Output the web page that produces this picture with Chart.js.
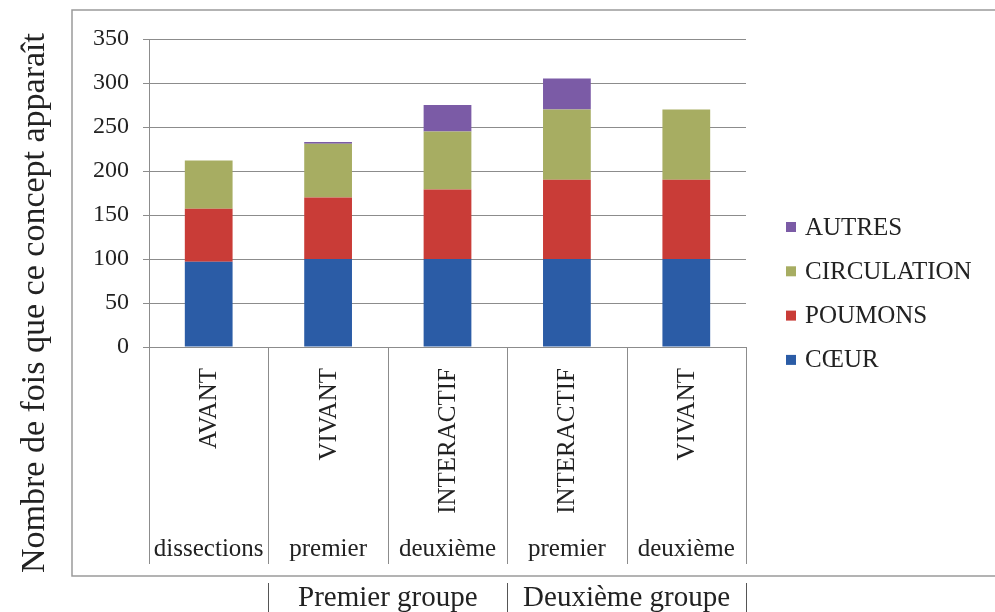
<!DOCTYPE html>
<html>
<head>
<meta charset="utf-8">
<script src="https://cdn.jsdelivr.net/npm/chart.js@4.4.1/dist/chart.umd.min.js"></script>
<style>
  html, body { margin: 0; padding: 0; background: #fff; }
  #wrap { width: 995px; height: 612px; position: relative; }
</style>
</head>
<body>
<div id="wrap"><canvas id="myChart"></canvas></div>
<script>
const phases = ['AVANT', 'VIVANT', 'INTERACTIF', 'INTERACTIF', 'VIVANT'];
const moments = ['dissections', 'premier', 'deuxième', 'premier', 'deuxième'];
const groups = ['Premier groupe', 'Deuxième groupe'];
const groupSpans = [[1, 2], [3, 4]];

const coeur = [97, 100, 100, 100, 100];
const poumons = [60, 70, 79, 90, 90];
const circulation = [55, 61, 66, 80, 80];
const autres = [0, 2, 30, 35, 0];

const yTicks = [0, 50, 100, 150, 200, 250, 300, 350];
const yTitle = 'Nombre de fois que ce concept apparaît';

const serif = '"Liberation Serif", "DejaVu Serif", serif';
const ink = '#222';

const extras = {
  id: 'extras',
  beforeDraw(chart) {
    const c = chart.ctx;
    c.save();
    c.fillStyle = '#fff';
    c.fillRect(0, 0, chart.width, chart.height);
    c.strokeStyle = '#9a9a9a';
    c.lineWidth = 1.5;
    c.strokeRect(72, 10, 1000, 566);
    c.restore();
  },
  afterDraw(chart) {
    const c = chart.ctx;
    const x = chart.scales.x;
    const area = chart.chartArea;
    const step = x.getPixelForValue(1) - x.getPixelForValue(0);
    const tableBottom = 564;
    c.save();

    // category table lines
    c.strokeStyle = '#8c8c8c';
    c.lineWidth = 1;
    for (let i = 0; i <= phases.length; i++) {
      const px = Math.round(x.getPixelForValue(0) - step / 2 + i * step) + 0.5;
      c.beginPath();
      c.moveTo(px, area.bottom);
      c.lineTo(px, tableBottom);
      c.stroke();
    }

    // rotated phase labels
    c.fillStyle = ink;
    c.font = '25px ' + serif;
    phases.forEach((t, i) => {
      const px = x.getPixelForValue(i);
      c.save();
      c.translate(px, area.bottom + 21);
      c.rotate(-Math.PI / 2);
      c.textAlign = 'right';
      c.textBaseline = 'middle';
      c.fillText(t, 0, 1);
      c.restore();
    });

    // second row
    c.textAlign = 'center';
    c.textBaseline = 'middle';
    moments.forEach((t, i) => {
      c.fillText(t, x.getPixelForValue(i), 549);
    });

    // groups below the frame
    c.font = '29px ' + serif;
    c.strokeStyle = '#555';
    groupSpans.forEach((s, g) => {
      const l = x.getPixelForValue(s[0]) - step / 2;
      const r = x.getPixelForValue(s[1]) + step / 2;
      c.fillText(groups[g], (l + r) / 2, 598);
      [l, r].forEach(px => {
        c.beginPath();
        c.moveTo(Math.round(px) + 0.5, 583);
        c.lineTo(Math.round(px) + 0.5, 612);
        c.stroke();
      });
    });

    // y title
    c.save();
    c.font = '34px ' + serif;
    c.translate(35, 303);
    c.rotate(-Math.PI / 2);
    c.textAlign = 'center';
    c.textBaseline = 'middle';
    c.fillText(yTitle, 0, 0);
    c.restore();

    // legend, reversed order
    c.font = '25px ' + serif;
    c.textAlign = 'left';
    c.textBaseline = 'middle';
    const ds = chart.data.datasets.slice().reverse();
    ds.forEach((d, i) => {
      const cy = 227 + i * 44.3;
      c.fillStyle = d.backgroundColor;
      c.fillRect(786, cy - 5, 10, 10);
      c.fillStyle = ink;
      c.fillText(d.label, 805, cy + 1);
    });

    c.restore();
  }
};

const ctx = document.getElementById('myChart');

new Chart(ctx, {
  type: 'bar',
  data: {
    labels: phases,
    datasets: [
      { label: 'CŒUR', data: coeur, backgroundColor: '#2b5ca6' },
      { label: 'POUMONS', data: poumons, backgroundColor: '#c93c37' },
      { label: 'CIRCULATION', data: circulation, backgroundColor: '#a7ad62' },
      { label: 'AUTRES', data: autres, backgroundColor: '#7b5ba6' }
    ]
  },
  options: {
    responsive: true,
    maintainAspectRatio: false,
    animation: false,
    devicePixelRatio: 1,
    layout: { padding: { left: 72, right: 249, top: 39, bottom: 265 } },
    datasets: { bar: { categoryPercentage: 1, barPercentage: 0.4 } },
    plugins: {
      legend: { display: false },
      tooltip: { enabled: false }
    },
    scales: {
      x: {
        stacked: true,
        display: false
      },
      y: {
        stacked: true,
        min: 0,
        max: 350,
        afterFit(scale) { scale.width = 77; },
        afterBuildTicks(scale) { scale.ticks = yTicks.map(v => ({ value: v })); },
        border: { display: true, color: '#8c8c8c', width: 1 },
        grid: { color: '#8c8c8c', lineWidth: 1, tickLength: 6 },
        ticks: {
          padding: 14,
          color: ink,
          font: { family: serif, size: 24 }
        }
      }
    }
  },
  plugins: [extras]
});
</script>
</body>
</html>
